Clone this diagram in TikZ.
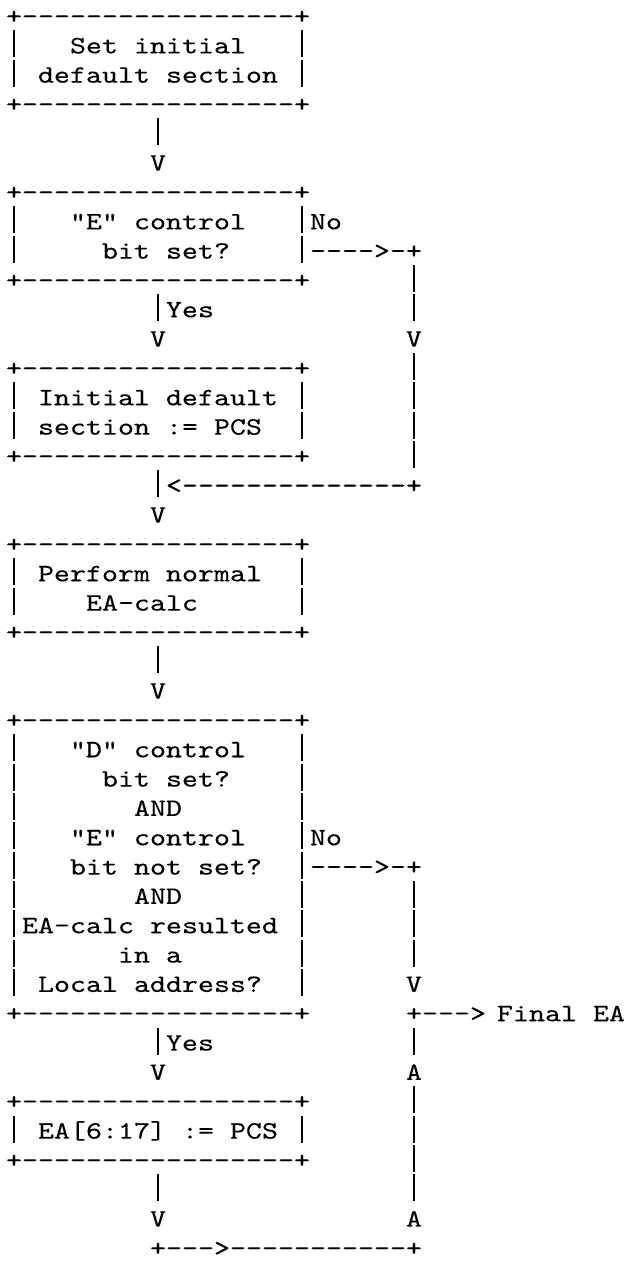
\documentclass[tikz,border=0pt]{standalone}
\usepackage{fontspec}
\newfontfamily\asciifont[FakeStretch=1.219,FakeBold=0.2,Ligatures=TeXOff]{lmmono10-regular.otf}
\tikzset{asc/.style={anchor=base west,inner sep=0pt,outer sep=0pt,text=black,
  font=\asciifont\fontsize{25pt}{29.33pt}\selectfont}}
% one character cell holding a tall vertical bar, as the reference's '|'
\newcommand\vb{\makebox[16pt]{\rule[-4pt]{1.1pt}{27pt}}}
% #1 name, #2 row (1-based), #3 column (0-based), #4 text
\newcommand\At[4]{\node[asc] (#1) at ({(6+16*#3)*1pt},{-(24+29.33*(#2-1))*1pt}) {#4};}
\begin{document}
\begin{tikzpicture}
\fill[white] (0pt,0pt) rectangle (626pt,-1261pt);
\useasboundingbox (0pt,0pt) rectangle (626pt,-1261pt);
% box 1
\At{setT}{1}{0}{+-----------------+}
\At{setA}{2}{0}{\vb\ \ \ Set initial\ \ \ \vb}
\At{setB}{3}{0}{\vb\ default section \vb}
\At{setU}{4}{0}{+-----------------+}
\At{c1a}{5}{9}{\vb}
\At{c1v}{6}{9}{V}
% box 2
\At{eT}{7}{0}{+-----------------+}
\At{eA}{8}{0}{\vb\ \ \ "E" control\ \ \ \vb}
\At{eB}{9}{0}{\vb\ \ \ \ \ bit set?\ \ \ \ \vb}
\At{eU}{10}{0}{+-----------------+}
\At{eNo}{8}{19}{No}
\At{eOut}{9}{19}{---->-+}
\At{n1a}{10}{25}{\vb}
\At{n1b}{11}{25}{\vb}
\At{n1v}{12}{25}{V}
\At{n1c}{13}{25}{\vb}
\At{n1d}{14}{25}{\vb}
\At{n1e}{15}{25}{\vb}
\At{n1f}{16}{25}{\vb}
\At{eYes}{11}{9}{\vb Yes}
\At{eYv}{12}{9}{V}
% box 3
\At{pT}{13}{0}{+-----------------+}
\At{pA}{14}{0}{\vb\ Initial default \vb}
\At{pB}{15}{0}{\vb\ section := PCS\ \ \vb}
\At{pU}{16}{0}{+-----------------+}
\At{join}{17}{9}{\vb<--------------+}
\At{joinv}{18}{9}{V}
% box 4
\At{cT}{19}{0}{+-----------------+}
\At{cA}{20}{0}{\vb\ Perform normal\ \ \vb}
\At{cB}{21}{0}{\vb\ \ \ \ EA-calc\ \ \ \ \ \ \vb}
\At{cU}{22}{0}{+-----------------+}
\At{c4a}{23}{9}{\vb}
\At{c4v}{24}{9}{V}
% box 5
\At{dT}{25}{0}{+-----------------+}
\At{dA}{26}{0}{\vb\ \ \ "D" control\ \ \ \vb}
\At{dB}{27}{0}{\vb\ \ \ \ \ bit set?\ \ \ \ \vb}
\At{dC}{28}{0}{\vb\ \ \ \ \ \ \ AND\ \ \ \ \ \ \ \vb}
\At{dD}{29}{0}{\vb\ \ \ "E" control\ \ \ \vb}
\At{dE}{30}{0}{\vb\ \ \ bit not set?\ \ \vb}
\At{dF}{31}{0}{\vb\ \ \ \ \ \ \ AND\ \ \ \ \ \ \ \vb}
\At{dG}{32}{0}{\vb EA-calc resulted \vb}
\At{dH}{33}{0}{\vb\ \ \ \ \ \ in a\ \ \ \ \ \ \ \vb}
\At{dI}{34}{0}{\vb\ Local address?\ \ \vb}
\At{dU}{35}{0}{+-----------------+}
\At{dNo}{29}{19}{No}
\At{dOut}{30}{19}{---->-+}
\At{n2a}{31}{25}{\vb}
\At{n2b}{32}{25}{\vb}
\At{n2c}{33}{25}{\vb}
\At{n2v}{34}{25}{V}
\At{final}{35}{25}{+--->}
\node[asc] (finaltxt) at ({497*1pt},{-(24+29.33*34)*1pt}) {Final EA};
\At{u1}{36}{25}{\vb}
\At{u1a}{37}{25}{A}
\At{u2}{38}{25}{\vb}
\At{u3}{39}{25}{\vb}
\At{u4}{40}{25}{\vb}
\At{u5}{41}{25}{\vb}
\At{u5a}{42}{25}{A}
\At{dYes}{36}{9}{\vb Yes}
\At{dYv}{37}{9}{V}
% box 6
\At{xT}{38}{0}{+-----------------+}
\At{xA}{39}{0}{\vb\ EA[6:17] := PCS \vb}
\At{xU}{40}{0}{+-----------------+}
\At{c6a}{41}{9}{\vb}
\At{c6v}{42}{9}{V}
\At{bottom}{43}{9}{+--->-----------+}
\end{tikzpicture}
\end{document}
